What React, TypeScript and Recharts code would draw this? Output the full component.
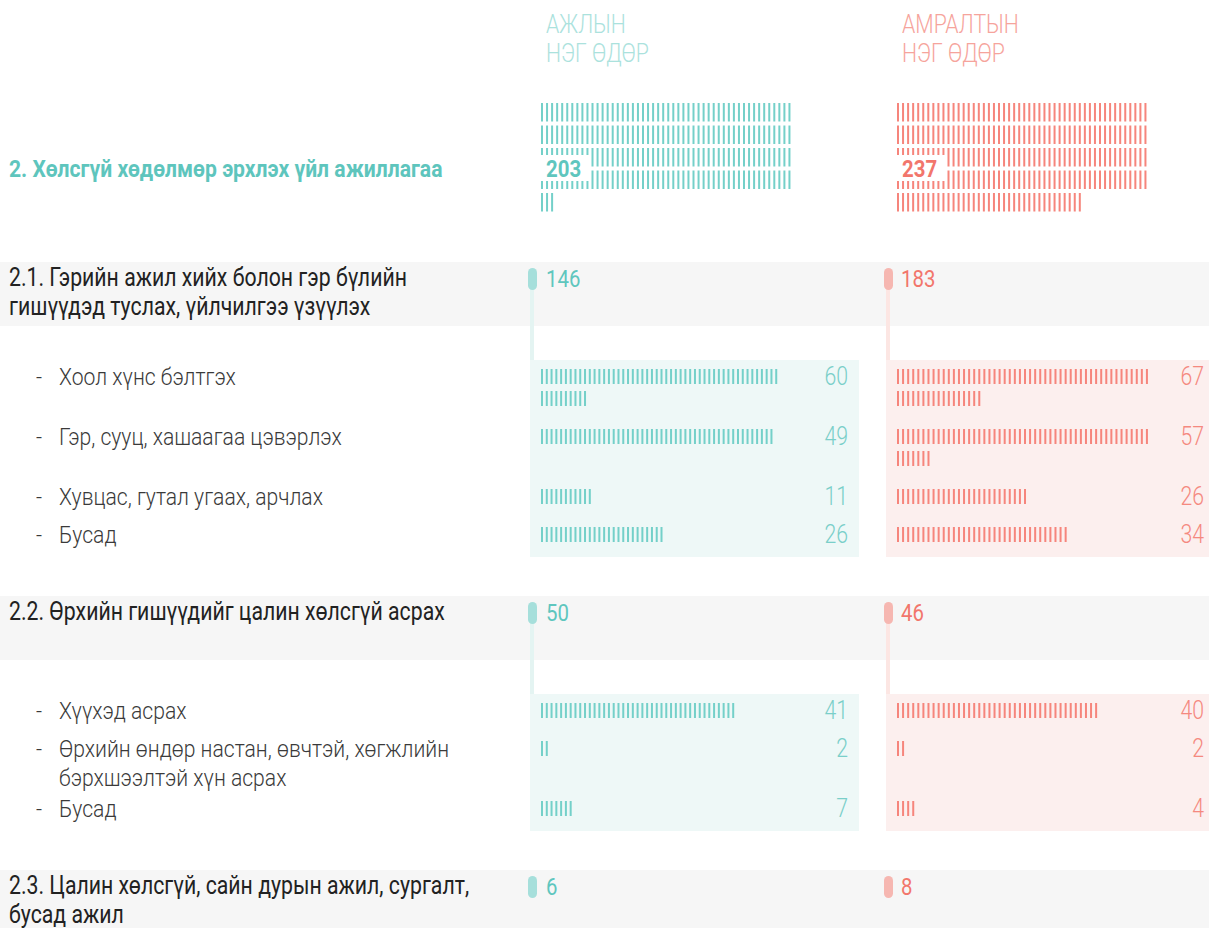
import { Bar, BarChart, LabelList, XAxis, YAxis } from "recharts";

const FONT = "Roboto, 'Noto Sans', sans-serif";
const SX = 0.85; // narrow the text, the original uses a condensed face
const SX_LIGHT = 0.88;

const TEAL = "#74d0c9";
const PINK = "#f6857c";

const columnTitles = [
  ["АЖЛЫН", "НЭГ ӨДӨР"],
  ["АМРАЛТЫН", "НЭГ ӨДӨР"],
];
const sectionTitle = "2. Хөлсгүй хөдөлмөр эрхлэх үйл ажиллагаа";
const totalWork = 203;
const totalRest = 237;

const groupLabels = [
  "2.1. Гэрийн ажил хийх болон гэр бүлийн гишүүдэд туслах, үйлчилгээ үзүүлэх",
  "2.2. Өрхийн гишүүдийг цалин хөлсгүй асрах",
  "2.3. Цалин хөлсгүй, сайн дурын ажил, сургалт, бусад ажил",
];
const groupWork = [146, 50, 6];
const groupRest = [183, 46, 8];

const sub1Labels = [
  "Хоол хүнс бэлтгэх",
  "Гэр, сууц, хашаагаа цэвэрлэх",
  "Хувцас, гутал угаах, арчлах",
  "Бусад",
];
const sub1Work = [60, 49, 11, 26];
const sub1Rest = [67, 57, 26, 34];

const sub2Labels = [
  "Хүүхэд асрах",
  "Өрхийн өндөр настан, өвчтэй, хөгжлийн бэрхшээлтэй хүн асрах",
  "Бусад",
];
const sub2Work = [41, 2, 7];
const sub2Rest = [40, 2, 4];

const PER_LINE = 50;
const PAD = 8; // room above/below the marks so the labels are not clipped

// split a count into tally lines of 50 marks; the label sits on one line
function toLines(v: number, labelLine = 0) {
  const out: { line: number; n: number; total: number | null }[] = [];
  let left = v;
  let i = 0;
  while (left > 0) {
    out.push({ line: i, n: Math.min(PER_LINE, left), total: i === labelLine ? v : null });
    left -= PER_LINE;
    i++;
  }
  return out;
}

function Marks(props: any) {
  const { x, y, width, height, payload, color } = props;
  const n = payload.n;
  const step = width / n;
  return (
    <g>
      {Array.from({ length: n }, (_, i) => (
        <rect key={i} x={x + i * step} y={y} width={2} height={height} fill={color} />
      ))}
    </g>
  );
}

function Tally({
  value,
  unit,
  pitch,
  markH,
  color,
  width,
  labelLine = 0,
  label,
}: {
  value: number;
  unit: number;
  pitch: number;
  markH: number;
  color: string;
  width: number;
  labelLine?: number;
  label: (p: any) => any;
}) {
  const lines = toLines(value, labelLine);
  const plotW = PER_LINE * unit;
  return (
    <BarChart
      layout="vertical"
      width={width}
      height={lines.length * pitch + PAD * 2}
      data={lines}
      margin={{ top: PAD, right: width - plotW, bottom: PAD, left: 0 }}
    >
      <XAxis type="number" domain={[0, PER_LINE]} hide />
      <YAxis type="category" dataKey="line" hide />
      <Bar
        dataKey="n"
        barSize={markH}
        isAnimationActive={false}
        shape={(p: any) => <Marks {...p} color={color} />}
      >
        <LabelList dataKey="total" content={label} />
      </Bar>
    </BarChart>
  );
}

const rowValue = (color: string, right: number) => (p: any) => {
  if (p.value == null) return null;
  const vb = p.viewBox || p;
  const cy = vb.y + vb.height / 2;
  return (
    <text
      transform={`translate(${right}, ${cy + 0.355 * 25}) scale(${SX}, 1)`}
      textAnchor="end"
      fontSize={25}
      fontWeight={300}
      fill={color}
      fontFamily={FONT}
    >
      {p.value}
    </text>
  );
};

const badge = (color: string) => (p: any) => {
  if (p.value == null) return null;
  const vb = p.viewBox || p;
  return (
    <g>
      <rect x={vb.x - 2} y={vb.y + 7} width={51} height={26} fill="#fff" />
      <text
        transform={`translate(${vb.x + 5}, ${vb.y + 20 + 0.355 * 24}) scale(${SX}, 1)`}
        fontSize={24}
        fontWeight={700}
        fill={color}
        fontFamily={FONT}
      >
        {p.value}
      </text>
    </g>
  );
};

function Cond({
  left,
  top,
  width,
  sx = SX,
  style,
  children,
}: {
  left: number;
  top: number;
  width: number;
  sx?: number;
  style?: React.CSSProperties;
  children: React.ReactNode;
}) {
  return (
    <div
      style={{
        position: "absolute",
        left,
        top,
        width: width / sx,
        transform: `scaleX(${sx})`,
        transformOrigin: "0 0",
        ...style,
      }}
    >
      {children}
    </div>
  );
}

function Header() {
  return (
    <div style={{ position: "relative", height: 262 }}>
      {columnTitles.map((t, i) => (
        <Cond
          key={i}
          left={i === 0 ? 546 : 902}
          top={10}
          width={200}
          style={{
            fontSize: 25,
            lineHeight: "29px",
            fontWeight: 300,
            color: i === 0 ? "#abe2dd" : "#f6a49c",
          }}
        >
          {t.map((l) => (
            <div key={l}>{l}</div>
          ))}
        </Cond>
      ))}
      <div style={{ position: "absolute", left: 541, top: 101 - PAD }}>
        <Tally value={totalWork} unit={5.05} pitch={22.5} markH={18.5} color={TEAL} width={262} labelLine={2} label={badge("#5fc6be")} />
      </div>
      <div style={{ position: "absolute", left: 897, top: 101 - PAD }}>
        <Tally value={totalRest} unit={5.05} pitch={22.5} markH={18.5} color={PINK} width={262} labelLine={2} label={badge("#f2766c")} />
      </div>
      <Cond
        left={9}
        top={154.5}
        width={500}
        sx={0.88}
        style={{ fontSize: 24, lineHeight: "28px", fontWeight: 700, color: "#5ec5bd", whiteSpace: "nowrap" }}
      >
        {sectionTitle}
      </Cond>
    </div>
  );
}

function Band({ idx, connector }: { idx: number; connector?: boolean }) {
  return (
    <div style={{ position: "relative", height: 64, background: "#f6f6f6" }}>
      {connector && (
        <>
          <div style={{ position: "absolute", left: 530, top: 27, width: 4, height: 71, background: "#e4f4f2" }} />
          <div style={{ position: "absolute", left: 886, top: 27, width: 4, height: 71, background: "#fce6e3" }} />
        </>
      )}
      <Cond
        left={9}
        top={2}
        width={490}
        style={{ fontSize: 25, lineHeight: "28.5px", color: "#222" }}
      >
        {groupLabels[idx]}
      </Cond>
      <div style={{ position: "absolute", left: 528, top: 5.5, width: 9, height: 22, borderRadius: 4.5, background: "#a6dfdb" }} />
      <div style={{ position: "absolute", left: 883.5, top: 5.5, width: 9, height: 22, borderRadius: 4.5, background: "#f6b7b1" }} />
      <Cond left={546} top={3} width={80} style={{ fontSize: 24, lineHeight: "28px", color: "#5fc6be" }}>
        {groupWork[idx]}
      </Cond>
      <Cond left={901} top={3} width={80} style={{ fontSize: 24, lineHeight: "28px", color: "#f2766c" }}>
        {groupRest[idx]}
      </Cond>
    </div>
  );
}

const labelLines = (s: string) => Math.ceil((s.length * 10.6) / 420);

function Panel({ labels, work, rest }: { labels: string[]; work: number[]; rest: number[] }) {
  const textStyle: React.CSSProperties = {
    fontSize: 24,
    lineHeight: "28.5px",
    fontWeight: 300,
    color: "#3a3a3a",
  };
  return (
    <div style={{ position: "relative", paddingTop: 5 }}>
      <div style={{ position: "absolute", left: 530, top: 0, bottom: 0, width: 329, background: "#eef8f7" }} />
      <div style={{ position: "absolute", left: 886, top: 0, bottom: 0, width: 329, background: "#fcefee" }} />
      {labels.map((l, i) => {
        const lines = Math.max(
          Math.ceil(work[i] / PER_LINE),
          Math.ceil(rest[i] / PER_LINE),
          labelLines(l),
        );
        const last = i === labels.length - 1;
        return (
          <div key={i} style={{ position: "relative", height: lines * 22 + (last ? 12 : 16) }}>
            <Cond left={36} top={-1.75} width={20} sx={SX_LIGHT} style={textStyle}>
              -
            </Cond>
            <Cond left={59} top={-1.75} width={430} sx={SX_LIGHT} style={textStyle}>
              {l}
            </Cond>
            <div style={{ position: "absolute", left: 541, top: -PAD }}>
              <Tally value={work[i]} unit={4.78} pitch={22} markH={15} color={TEAL} width={318} label={rowValue("#7acfc9", 307)} />
            </div>
            <div style={{ position: "absolute", left: 897, top: -PAD }}>
              <Tally value={rest[i]} unit={5.08} pitch={22} markH={15} color={PINK} width={318} label={rowValue("#f5897f", 307)} />
            </div>
          </div>
        );
      })}
    </div>
  );
}

export default function App() {
  return (
    <div
      style={{
        position: "absolute",
        left: 0,
        top: 0,
        width: 1209,
        height: 928,
        overflow: "hidden",
        background: "#fff",
        fontFamily: FONT,
      }}
    >
      <Header />
      <Band idx={0} connector />
      <div style={{ height: 34 }} />
      <Panel labels={sub1Labels} work={sub1Work} rest={sub1Rest} />
      <div style={{ height: 39 }} />
      <Band idx={1} connector />
      <div style={{ height: 34 }} />
      <Panel labels={sub2Labels} work={sub2Work} rest={sub2Rest} />
      <div style={{ height: 39 }} />
      <Band idx={2} />
    </div>
  );
}
